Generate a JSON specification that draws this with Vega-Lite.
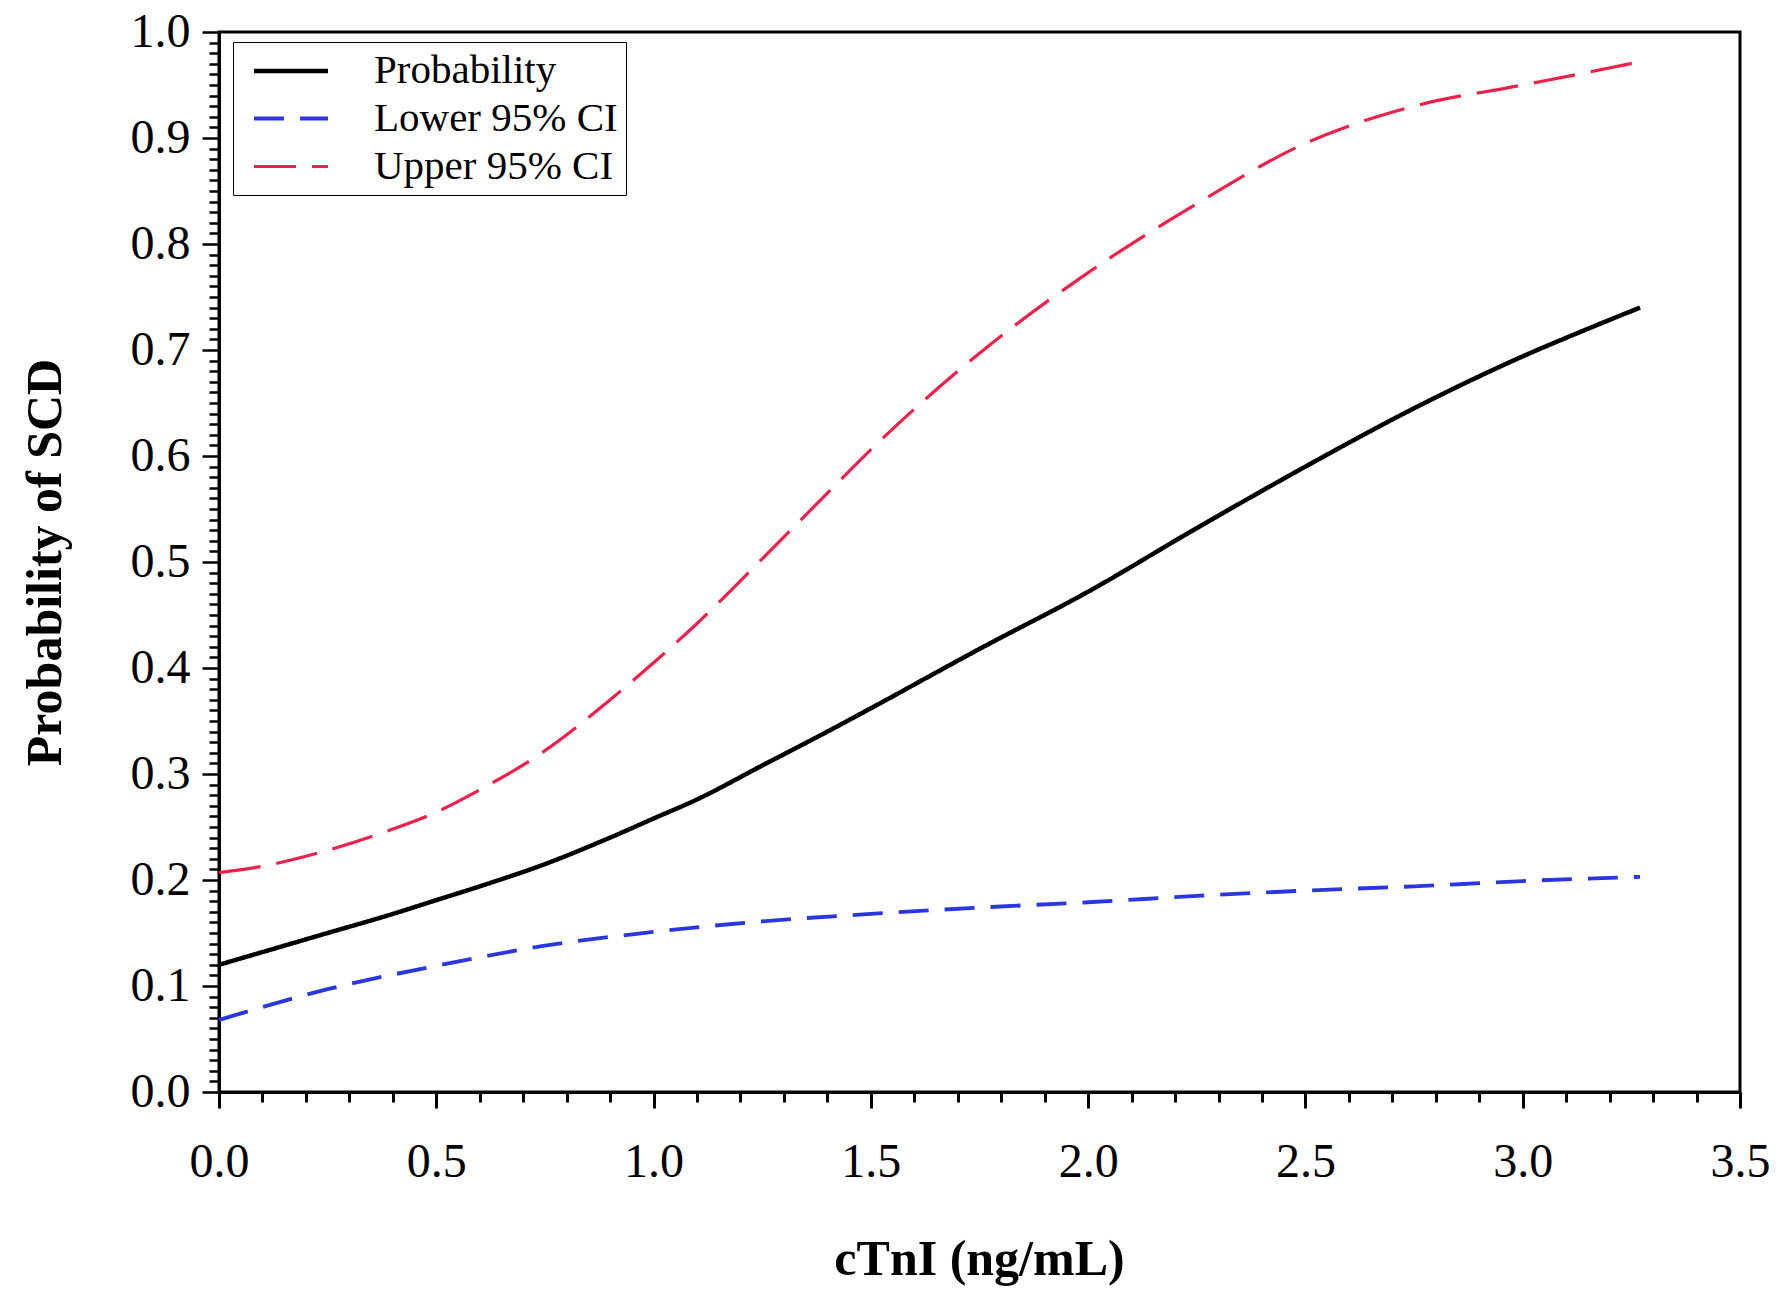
{
  "$schema": "https://vega.github.io/schema/vega-lite/v6.json",
  "width": 1521,
  "height": 1060,
  "autosize": {"type": "none"},
  "padding": {"left": 219, "top": 32, "right": 42, "bottom": 205},
  "background": "white",
  "config": {
    "view": {"stroke": "black", "strokeWidth": 3},
    "font": "Liberation Serif"
  },
  "data": {
    "values": [
      {"x": 0, "y": 0.120, "series": "Probability"},
      {"x": 0.1, "y": 0.132, "series": "Probability"},
      {"x": 0.25, "y": 0.150, "series": "Probability"},
      {"x": 0.4, "y": 0.168, "series": "Probability"},
      {"x": 0.5, "y": 0.181, "series": "Probability"},
      {"x": 0.6, "y": 0.194, "series": "Probability"},
      {"x": 0.75, "y": 0.215, "series": "Probability"},
      {"x": 0.9, "y": 0.240, "series": "Probability"},
      {"x": 1.0, "y": 0.258, "series": "Probability"},
      {"x": 1.1, "y": 0.276, "series": "Probability"},
      {"x": 1.25, "y": 0.308, "series": "Probability"},
      {"x": 1.4, "y": 0.340, "series": "Probability"},
      {"x": 1.5, "y": 0.362, "series": "Probability"},
      {"x": 1.75, "y": 0.418, "series": "Probability"},
      {"x": 2.0, "y": 0.472, "series": "Probability"},
      {"x": 2.25, "y": 0.532, "series": "Probability"},
      {"x": 2.5, "y": 0.590, "series": "Probability"},
      {"x": 2.75, "y": 0.645, "series": "Probability"},
      {"x": 3.0, "y": 0.694, "series": "Probability"},
      {"x": 3.15, "y": 0.720, "series": "Probability"},
      {"x": 3.27, "y": 0.740, "series": "Probability"},
      {"x": 0, "y": 0.068, "series": "Lower 95% CI"},
      {"x": 0.25, "y": 0.097, "series": "Lower 95% CI"},
      {"x": 0.5, "y": 0.119, "series": "Lower 95% CI"},
      {"x": 0.75, "y": 0.138, "series": "Lower 95% CI"},
      {"x": 1.0, "y": 0.151, "series": "Lower 95% CI"},
      {"x": 1.25, "y": 0.161, "series": "Lower 95% CI"},
      {"x": 1.5, "y": 0.168, "series": "Lower 95% CI"},
      {"x": 1.75, "y": 0.174, "series": "Lower 95% CI"},
      {"x": 2.0, "y": 0.179, "series": "Lower 95% CI"},
      {"x": 2.25, "y": 0.185, "series": "Lower 95% CI"},
      {"x": 2.5, "y": 0.190, "series": "Lower 95% CI"},
      {"x": 2.75, "y": 0.194, "series": "Lower 95% CI"},
      {"x": 3.0, "y": 0.199, "series": "Lower 95% CI"},
      {"x": 3.27, "y": 0.203, "series": "Lower 95% CI"},
      {"x": 0, "y": 0.207, "series": "Upper 95% CI"},
      {"x": 0.1, "y": 0.213, "series": "Upper 95% CI"},
      {"x": 0.25, "y": 0.228, "series": "Upper 95% CI"},
      {"x": 0.4, "y": 0.248, "series": "Upper 95% CI"},
      {"x": 0.5, "y": 0.264, "series": "Upper 95% CI"},
      {"x": 0.6, "y": 0.285, "series": "Upper 95% CI"},
      {"x": 0.75, "y": 0.322, "series": "Upper 95% CI"},
      {"x": 0.9, "y": 0.370, "series": "Upper 95% CI"},
      {"x": 1.0, "y": 0.405, "series": "Upper 95% CI"},
      {"x": 1.1, "y": 0.442, "series": "Upper 95% CI"},
      {"x": 1.25, "y": 0.503, "series": "Upper 95% CI"},
      {"x": 1.4, "y": 0.565, "series": "Upper 95% CI"},
      {"x": 1.5, "y": 0.606, "series": "Upper 95% CI"},
      {"x": 1.75, "y": 0.697, "series": "Upper 95% CI"},
      {"x": 2.0, "y": 0.773, "series": "Upper 95% CI"},
      {"x": 2.25, "y": 0.838, "series": "Upper 95% CI"},
      {"x": 2.5, "y": 0.895, "series": "Upper 95% CI"},
      {"x": 2.75, "y": 0.930, "series": "Upper 95% CI"},
      {"x": 3.0, "y": 0.950, "series": "Upper 95% CI"},
      {"x": 3.15, "y": 0.962, "series": "Upper 95% CI"},
      {"x": 3.27, "y": 0.972, "series": "Upper 95% CI"}
    ]
  },
  "mark": {"type": "line", "interpolate": "monotone"},
  "encoding": {
    "x": {
      "field": "x", "type": "quantitative",
      "scale": {"domain": [0, 3.5], "nice": false, "zero": false},
      "axis": {
        "title": "cTnI (ng/mL)",
        "values": [0,0.1,0.2,0.3,0.4,0.5,0.6,0.7,0.8,0.9,1.0,1.1,1.2,1.3,1.4,1.5,1.6,1.7,1.8,1.9,2.0,2.1,2.2,2.3,2.4,2.5,2.6,2.7,2.8,2.9,3.0,3.1,3.2,3.3,3.4,3.5],
        "labelExpr": "abs(datum.value*2 - round(datum.value*2)) < 0.001 ? format(datum.value, '.1f') : ''",
        "labelOverlap": false,
        "labelBound": false,
        "labelFlush": false,
        "labelFont": "Liberation Serif",
        "labelFontSize": 48,
        "labelColor": "black",
        "labelPadding": 30,
        "tickSize": {"condition": {"test": "abs(datum.value*2 - round(datum.value*2)) < 0.001", "value": 16}, "value": 10},
        "tickWidth": 3,
        "tickColor": "black",
        "domainColor": "black",
        "domainWidth": 3,
        "grid": false,
        "titleFont": "Liberation Serif",
        "titleFontSize": 50,
        "titleFontWeight": "bold",
        "titleColor": "black",
        "titleX": 760,
        "titleY": 167,
        "titleBaseline": "middle",
        "titleAlign": "center"
      }
    },
    "y": {
      "field": "y", "type": "quantitative",
      "scale": {"domain": [0, 1], "nice": false},
      "axis": {
        "title": "Probability of SCD",
        "values": [0,0.01,0.02,0.03,0.04,0.05,0.06,0.07,0.08,0.09,0.1,0.11,0.12,0.13,0.14,0.15,0.16,0.17,0.18,0.19,0.2,0.21,0.22,0.23,0.24,0.25,0.26,0.27,0.28,0.29,0.3,0.31,0.32,0.33,0.34,0.35,0.36,0.37,0.38,0.39,0.4,0.41,0.42,0.43,0.44,0.45,0.46,0.47,0.48,0.49,0.5,0.51,0.52,0.53,0.54,0.55,0.56,0.57,0.58,0.59,0.6,0.61,0.62,0.63,0.64,0.65,0.66,0.67,0.68,0.69,0.7,0.71,0.72,0.73,0.74,0.75,0.76,0.77,0.78,0.79,0.8,0.81,0.82,0.83,0.84,0.85,0.86,0.87,0.88,0.89,0.9,0.91,0.92,0.93,0.94,0.95,0.96,0.97,0.98,0.99,1.0],
        "labelExpr": "abs(datum.value*10 - round(datum.value*10)) < 0.001 ? format(datum.value, '.1f') : ''",
        "labelOverlap": false,
        "labelBound": false,
        "labelFlush": false,
        "labelFont": "Liberation Serif",
        "labelFontSize": 48,
        "labelColor": "black",
        "labelPadding": 12,
        "tickSize": {"condition": {"test": "abs(datum.value*10 - round(datum.value*10)) < 0.001", "value": 17}, "value": 10},
        "tickWidth": 2.5,
        "tickColor": "black",
        "domainColor": "black",
        "domainWidth": 3,
        "grid": false,
        "titleFont": "Liberation Serif",
        "titleFontSize": 50,
        "titleFontWeight": "bold",
        "titleColor": "black",
        "titleX": -174,
        "titleY": 530,
        "titleAngle": -90,
        "titleBaseline": "middle",
        "titleAlign": "center"
      }
    },
    "color": {
      "field": "series", "type": "nominal",
      "scale": {"domain": ["Probability", "Lower 95% CI", "Upper 95% CI"], "range": ["#000000", "#2a36e0", "#f0204c"]},
      "legend": {
        "title": null,
        "orient": "none",
        "legendX": 14,
        "legendY": 10,
        "strokeColor": "black",
        "fillColor": "white",
        "padding": 8,
        "symbolType": "M-2,0H2",
        "symbolSize": 1369,
        "symbolOffset": 29,
        "symbolStrokeWidth": 3.5,
        "labelFont": "Liberation Serif",
        "labelFontSize": 41,
        "labelColor": "black",
        "labelOffset": 62,
        "rowPadding": 6,
        "labelLimit": 400
      }
    },
    "strokeDash": {
      "field": "series", "type": "nominal",
      "scale": {"domain": ["Probability", "Lower 95% CI", "Upper 95% CI"], "range": [[1, 0], [30, 16], [42, 16]]},
      "legend": null
    },
    "strokeWidth": {
      "field": "series", "type": "nominal",
      "scale": {"domain": ["Probability", "Lower 95% CI", "Upper 95% CI"], "range": [4.5, 3.2, 3.2]},
      "legend": null
    }
  }
}
